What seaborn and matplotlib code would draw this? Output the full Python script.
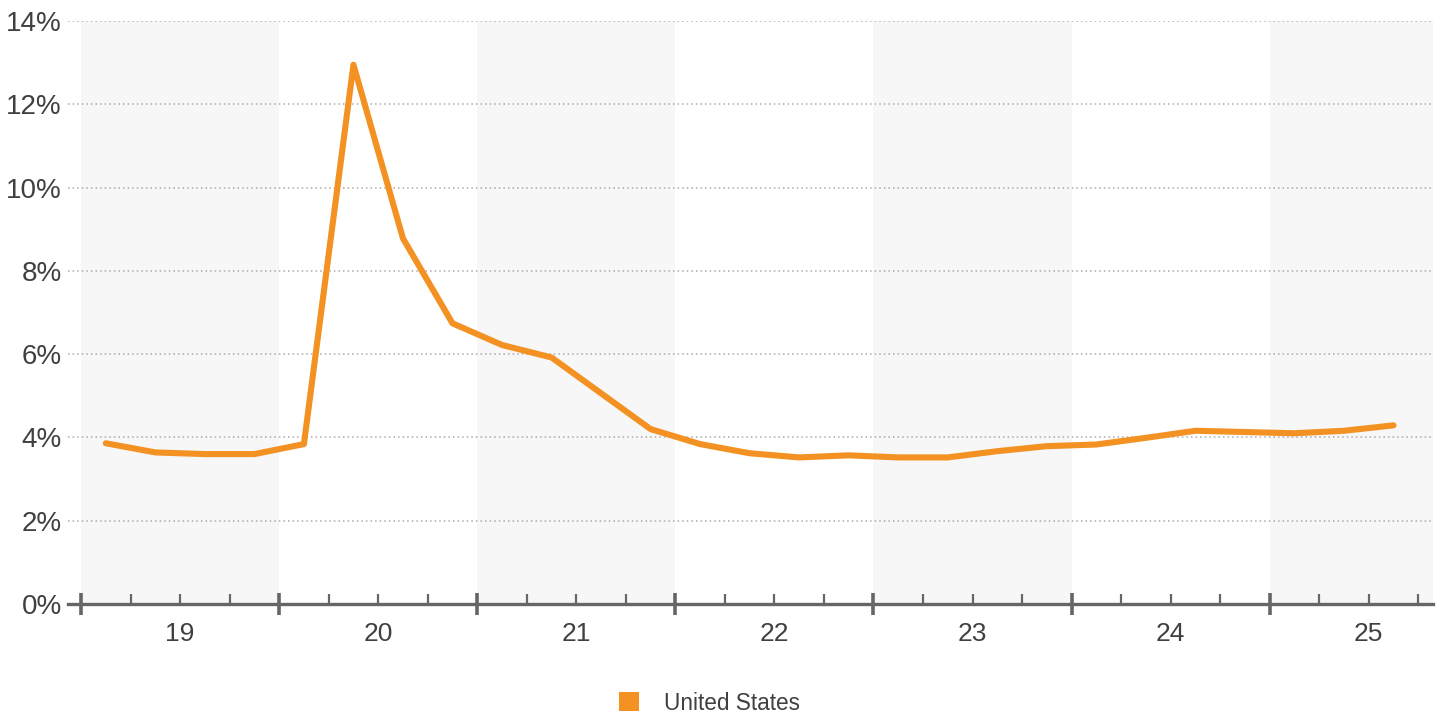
import pandas as pd
import matplotlib.pyplot as plt
import seaborn as sns
from matplotlib.patches import Patch
from matplotlib.ticker import FixedLocator, FixedFormatter, FuncFormatter

# quarterly unemployment rate, United States
quarters = ['2019Q1', '2019Q2', '2019Q3', '2019Q4',
            '2020Q1', '2020Q2', '2020Q3', '2020Q4',
            '2021Q1', '2021Q2', '2021Q3', '2021Q4',
            '2022Q1', '2022Q2', '2022Q3', '2022Q4',
            '2023Q1', '2023Q2', '2023Q3', '2023Q4',
            '2024Q1', '2024Q2', '2024Q3', '2024Q4',
            '2025Q1', '2025Q2', '2025Q3']
rate = [3.86, 3.64, 3.60, 3.60,
        3.84, 12.95, 8.78, 6.74,
        6.22, 5.92, 5.06, 4.20,
        3.84, 3.62, 3.52, 3.57,
        3.52, 3.52, 3.67, 3.79,
        3.83, 3.99, 4.16, 4.13,
        4.10, 4.16, 4.29]
years = [2019, 2020, 2021, 2022, 2023, 2024, 2025]
year_labels = ['19', '20', '21', '22', '23', '24', '25']
series_name = 'United States'

orange = '#f39223'
text_col = '#404040'

per = pd.PeriodIndex(quarters, freq='Q')
df = pd.DataFrame({'t': per.year + (per.quarter - 0.5) / 4, 'rate': rate})

sns.set_style('white')
plt.rcParams['font.family'] = ['Liberation Sans', 'DejaVu Sans']

fig = plt.figure(figsize=(14.37, 7.17), dpi=100)
ax = fig.add_axes([0.0473, 0.1576, 0.95, 0.8131])

# alternating year bands
for i, y in enumerate(years):
    if i % 2 == 0:
        ax.axvspan(y, y + 1, color='#f7f7f7', zorder=0, lw=0)

sns.lineplot(data=df, x='t', y='rate', ax=ax, color=orange, lw=4.4,
             solid_joinstyle='round', solid_capstyle='round', zorder=3)

ax.set_xlim(years[0] - 0.066, years[-1] + 0.825)
ax.set_ylim(0, 14)
ax.set_xlabel('')
ax.set_ylabel('')

# y axis
ax.set_yticks(range(0, 15, 2))
ax.yaxis.set_major_formatter(FuncFormatter(lambda v, p: f'{int(v)}%'))
ax.tick_params(axis='y', length=0, pad=4.5, labelsize=20, labelcolor=text_col)
ax.yaxis.grid(True, linestyle=(0, (1, 2)), color='#aaaaaa', lw=1.1)
ax.set_axisbelow(True)

# x axis: year boundaries long, quarter ticks short, labels at mid-year
ax.xaxis.set_major_locator(FixedLocator(years))
ax.xaxis.set_major_formatter(FixedFormatter([''] * len(years)))
minor_pos, minor_lab = [], []
for y, lab in zip(years, year_labels):
    for q in (0.25, 0.5, 0.75):
        minor_pos.append(y + q)
        minor_lab.append(lab if q == 0.5 else '')
ax.xaxis.set_minor_locator(FixedLocator(minor_pos))
ax.xaxis.set_minor_formatter(FixedFormatter(minor_lab))
ax.tick_params(axis='x', which='major', direction='inout', length=16, width=2.6,
               color='#666666', bottom=True)
ax.tick_params(axis='x', which='minor', direction='in', length=7.5, width=1.6,
               color='#666666', labelsize=19, labelcolor=text_col, pad=13, bottom=True)

for side in ['top', 'right', 'left']:
    ax.spines[side].set_visible(False)
ax.spines['bottom'].set_color('#666666')
ax.spines['bottom'].set_linewidth(2.4)
ax.spines['bottom'].set_zorder(4)

handles = [Patch(facecolor=orange, edgecolor='none', label=series_name)]
fig.legend(handles=handles, loc='center', bbox_to_anchor=(0.4937, 0.0195),
           frameon=False, fontsize=16.3, handlelength=0.9, handleheight=0.9,
           handletextpad=1.1, labelcolor=text_col)

fig.savefig('out.png', dpi=100)
